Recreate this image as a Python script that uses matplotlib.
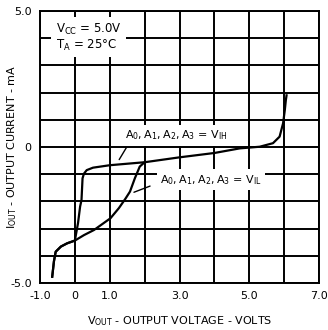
import matplotlib
matplotlib.use("Agg")
import matplotlib.pyplot as plt

# (V_OUT in volts, I_OUT in mA)
vih_v = [-0.65, -0.60, -0.55, -0.40, -0.22, 0.0, 0.09, 0.15, 0.19, 0.22, 0.26, 0.34,
         0.52, 1.0, 2.0, 3.0, 4.0, 4.73, 5.3, 5.68, 5.87, 5.97, 6.02, 6.05, 6.07]
vih_i = [-4.77, -4.2, -3.85, -3.66, -3.54, -3.44, -2.8, -2.19, -1.95, -1.15, -0.98, -0.85,
         -0.76, -0.67, -0.56, -0.38, -0.22, -0.05, 0.01, 0.14, 0.38, 0.87, 1.36, 1.73, 1.9]

vil_v = [-0.65, -0.60, -0.55, -0.40, -0.22, 0.0, 0.26, 0.55, 1.02, 1.26, 1.45, 1.58,
         1.72, 1.86, 2.0]
vil_i = [-4.77, -4.2, -3.85, -3.66, -3.54, -3.44, -3.24, -3.05, -2.62, -2.25, -1.9, -1.64,
         -1.15, -0.72, -0.56]

xticks = [-1, 0, 1, 2, 3, 4, 5, 6, 7]
xlabels = ["-1.0", "0", "1.0", "", "3.0", "", "5.0", "", "7.0"]
yticks = [-5, -4, -3, -2, -1, 0, 1, 2, 3, 4, 5]
ylabels = ["-5.0", "", "", "", "", "0", "", "", "", "", "5.0"]

fnt = ["Liberation Sans Narrow", "DejaVu Sans"]
plt.rcParams["font.family"] = fnt
plt.rcParams["mathtext.fontset"] = "custom"
plt.rcParams["mathtext.rm"] = "Liberation Sans Narrow"
plt.rcParams["mathtext.it"] = "Liberation Sans Narrow"

fig = plt.figure(figsize=(3.28, 3.30), dpi=100)
ax = fig.add_axes([40 / 328, 47 / 330, 279 / 328, 272 / 330])

ax.set_xlim(-1, 7)
ax.set_ylim(-5, 5)
ax.set_xticks(xticks)
ax.set_xticklabels(xlabels)
ax.set_yticks(yticks)
ax.set_yticklabels(ylabels)
ax.tick_params(length=0, labelsize=8, pad=6)
ax.grid(True, color="black", linewidth=1.4)
for s in ax.spines.values():
    s.set_linewidth(1.4)

ax.plot(vih_v, vih_i, color="black", linewidth=1.6, zorder=3)
ax.plot(vil_v, vil_i, color="black", linewidth=1.6, zorder=3)

ax.text(-0.55, 4.6, "$\\mathregular{V_{CC}}$ = 5.0V\n$\\mathregular{T_A}$ = 25°C",
        fontsize=8.5, va="top", ha="left", zorder=4, linespacing=1.05,
        bbox=dict(facecolor="white", edgecolor="none", pad=3.5))
box = dict(facecolor="white", edgecolor="none", pad=2.5)
ax.text(1.45, 0.42, "$\\mathregular{A_0, A_1, A_2, A_3}$ = $\\mathregular{V_{IH}}$",
        fontsize=8, va="center", ha="left", bbox=box, zorder=4)
ax.text(2.45, -1.2, "$\\mathregular{A_0, A_1, A_2, A_3}$ = $\\mathregular{V_{IL}}$",
        fontsize=8, va="center", ha="left", bbox=box, zorder=4)
ax.annotate("", xy=(1.23, -0.55), xytext=(1.52, 0.07),
            arrowprops=dict(arrowstyle="-", color="black", lw=1), zorder=5)
ax.annotate("", xy=(1.62, -1.70), xytext=(2.23, -1.40),
            arrowprops=dict(arrowstyle="-", color="black", lw=1), zorder=5)

ax.set_xlabel("$\\mathregular{V_{OUT}}$ - OUTPUT VOLTAGE - VOLTS", fontsize=8, labelpad=9)
ax.set_ylabel("$\\mathregular{I_{OUT}}$ - OUTPUT CURRENT - mA", fontsize=8)
ax.yaxis.set_label_coords(-0.075, 0.5)

fig.savefig("out.png", dpi=100)
